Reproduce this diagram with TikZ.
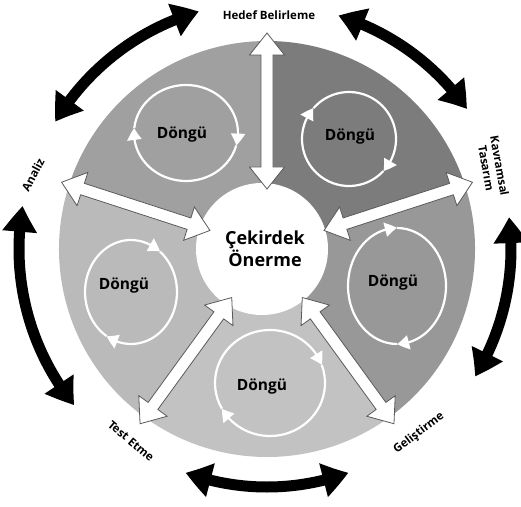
\documentclass[tikz,border=0pt]{standalone}
\usepackage{fontspec}
\setmainfont{Open Sans}
\usetikzlibrary{arrows.meta,bending}
\definecolor{secTL}{HTML}{A0A0A0}
\definecolor{secTR}{HTML}{7C7C7C}
\definecolor{secR}{HTML}{989898}
\definecolor{secB}{HTML}{C2C2C2}
\definecolor{secL}{HTML}{BABABA}
\definecolor{rim}{HTML}{5A5A5A}
\begin{document}
\begin{tikzpicture}[x=1pt,y=1pt,
  cyclelabel/.style={font=\bfseries\fontsize{15.5}{18}\selectfont, text=black, inner sep=0pt},
  phaselabel/.style={font=\bfseries\fontsize{11.5}{13.5}\selectfont, align=center, inner sep=1pt},
  ringarc/.style={draw=white, line width=2.2pt, -{Triangle[length=12pt,width=14pt,bend]}},
  blockarrow/.style={fill=white, draw=rim, line width=0.8pt, line join=miter},
  cyclearc/.style={line width=11pt, {Triangle[length=26pt,width=33pt,bend]}-{Triangle[length=26pt,width=33pt,bend]}},
]
\useasboundingbox (0,0) rectangle (521,506);
\fill[white] (0,0) rectangle (521,506);
\coordinate (c) at (267,257);

% five shaded sectors of the disc
\fill[secTR] (c) -- ++(18:208)  arc[start angle=18,  end angle=90,  radius=208] -- cycle;
\fill[secTL] (c) -- ++(90:208)  arc[start angle=90,  end angle=162, radius=208] -- cycle;
\fill[secL]  (c) -- ++(162:208) arc[start angle=162, end angle=234, radius=208] -- cycle;
\fill[secB]  (c) -- ++(234:208) arc[start angle=234, end angle=306, radius=208] -- cycle;
\fill[secR]  (c) -- ++(306:208) arc[start angle=306, end angle=378, radius=208] -- cycle;

% white hub
\node[circle, fill=white, minimum size=132pt, inner sep=0pt] (hub) at (262,257) {};

% cycle rings (clockwise, two heads each)
\draw[ringarc] ([shift={(174:52 and 48)}]186,373) arc[start angle=174, end angle=-15, x radius=52, y radius=48];
\draw[ringarc] ([shift={(-15:52 and 48)}]186,373) arc[start angle=-15, end angle=-186, x radius=52, y radius=48];
\draw[ringarc] ([shift={(139:47 and 47)}]349,367) arc[start angle=139, end angle=-43, x radius=47, y radius=47];
\draw[ringarc] ([shift={(-43:47 and 47)}]349,367) arc[start angle=-43, end angle=-221, x radius=47, y radius=47];
\draw[ringarc] ([shift={(90:49 and 58)}]397,220) arc[start angle=90, end angle=-90, x radius=49, y radius=58];
\draw[ringarc] ([shift={(-90:49 and 58)}]397,220) arc[start angle=-90, end angle=-270, x radius=49, y radius=58];
\draw[ringarc] ([shift={(209:55 and 53)}]270,123) arc[start angle=209, end angle=20, x radius=55, y radius=53];
\draw[ringarc] ([shift={(20:55 and 53)}]270,123) arc[start angle=20, end angle=-151, x radius=55, y radius=53];
\draw[ringarc] ([shift={(238:46 and 52)}]131,214) arc[start angle=238, end angle=51, x radius=46, y radius=52];
\draw[ringarc] ([shift={(51:46 and 52)}]131,214) arc[start angle=51, end angle=-122, x radius=46, y radius=52];

\node[cyclelabel] (d1) at (182,371) {Döngü};
\node[cyclelabel] (d2) at (350,369) {Döngü};
\node[cyclelabel] (d3) at (393,223) {Döngü};
\node[cyclelabel] (d4) at (262,119) {Döngü};
\node[cyclelabel] (d5) at (124,220) {Döngü};

% white double block arrows from the hub outwards
\foreach \a in {90,18,162,-126,-54} {
  \draw[blockarrow, shift={(c)}, rotate=\a]
    (60,0) -- (82,17.5) -- (82,6) -- (194,6) -- (194,17.5) -- (216,0)
    -- (194,-17.5) -- (194,-6) -- (82,-6) -- (82,-17.5) -- cycle;
}

\node[font=\bfseries\fontsize{18}{22}\selectfont, align=center, inner sep=0pt] (core) at (265,257) {Çekirdek\\Önerme};

% black double arrows around the disc
\draw[cyclearc] ([shift={(149:247)}]c) arc[start angle=149, end angle=106, radius=247];
\draw[cyclearc] ([shift={(73:244)}]c)  arc[start angle=73,  end angle=35,  radius=244];
\draw[cyclearc] ([shift={(7.5:244)}]c) arc[start angle=7.5, end angle=-31.5, radius=244];
\draw[cyclearc] ([shift={(-70:238)}]c) arc[start angle=-70, end angle=-110, radius=238];
\draw[cyclearc] ([shift={(170:248)}]c) arc[start angle=170, end angle=219, radius=248];

% phase labels
\node[phaselabel] (hedef)  at (269,491) {Hedef Belirleme};
\node[phaselabel, rotate=-80] (kavram) at (493,339) {Kavramsal\\Tasarım};
\node[phaselabel, rotate=37]  (gelis)  at (419,73)  {Geliştirme};
\node[phaselabel, rotate=-40] (test)   at (131,65)  {Test Etme};
\node[phaselabel, rotate=62]  (analiz) at (33,331)  {Analiz};
\end{tikzpicture}
\end{document}
